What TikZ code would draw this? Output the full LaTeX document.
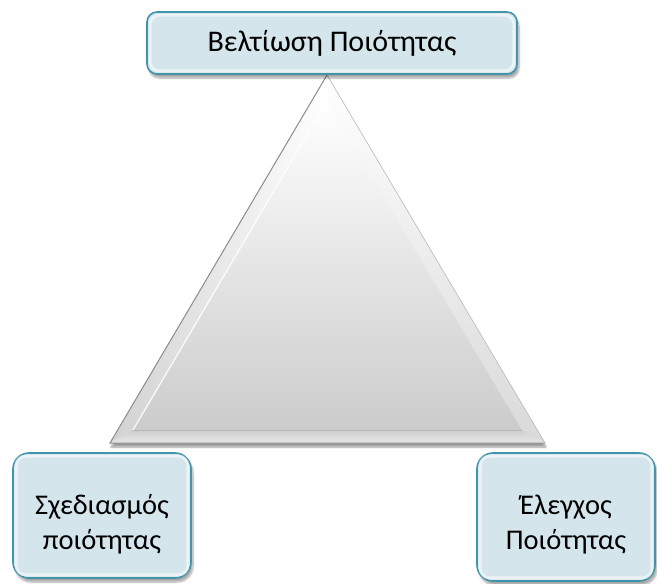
\documentclass[tikz,border=0pt]{standalone}
\usepackage{fontspec}
\setmainfont{Carlito}
\usetikzlibrary{shadows.blur}
\definecolor{boxfill}{HTML}{D5E5EC}
\definecolor{boxedge}{HTML}{3F95AA}
\definecolor{facetgray}{HTML}{C9C9C9}
\definecolor{edgegray}{HTML}{8C8C8C}
\tikzset{
  qbox/.style={draw=boxedge, line width=1.6pt, fill=boxfill, align=center,
    inner sep=0pt, blur shadow={shadow xshift=2pt, shadow yshift=-4pt,
    shadow opacity=35, shadow blur steps=8}},
  glow/.style={draw=white, opacity=.55, line width=3pt},
  bigtext/.style={font=\fontsize{28.5}{35}\selectfont, align=center, inner sep=0pt},
  toptext/.style={font=\fontsize{30}{35}\selectfont},
}
\begin{document}
\begin{tikzpicture}[x=1pt,y=-1pt]
\useasboundingbox (0,0) rectangle (657,584);

% bevelled triangle: outer and inner corners
\coordinate (A) at (327,75);
\coordinate (B) at (110,443);
\coordinate (C) at (545,443);
\coordinate (a) at (327,101);
\coordinate (b) at (133,430);
\coordinate (c) at (522,430);

\fill[white, blur shadow={shadow xshift=1pt, shadow yshift=-4pt,
  shadow opacity=40, shadow blur steps=8}] (A) -- (B) -- (C) -- cycle;
% left facet
\shade[left color=edgegray!40, right color=white] (A) -- (B) -- (b) -- (a) -- cycle;
% right facet
\shade[top color=white, bottom color=facetgray!70] (A) -- (a) -- (c) -- (C) -- cycle;
% bottom facet
\shade[top color=facetgray!90, bottom color=facetgray!115!black] (B) -- (C) -- (c) -- (b) -- cycle;
% face
\shade[top color=white, bottom color=facetgray!95] (a) -- (b) -- (c) -- cycle;
% edges
\draw[edgegray, line width=1pt] (A) -- (B) -- (C);
\draw[edgegray!60, line width=.6pt] (A) -- (C);
\draw[white, line width=1.2pt, opacity=.9] (b) -- (a);
\draw[facetgray!80!black, line width=.4pt, opacity=.5] (b) -- (c);

% boxes
\node[qbox, rounded corners=10pt, minimum width=370pt, minimum height=62pt, toptext]
  (improve) at (332,43) {Βελτίωση Ποιότητας};
\node[qbox, rounded corners=16pt, minimum width=178pt, minimum height=125pt]
  (design) at (102,515.5) {};
\node[qbox, rounded corners=16pt, minimum width=178pt, minimum height=128pt]
  (control) at (566,517) {};

% soft inner highlight along the box edges
\foreach \n in {improve,design,control}
  \draw[glow, rounded corners=9pt]
    ([shift={(4pt,-4pt)}]\n.north west) rectangle ([shift={(-4pt,4pt)}]\n.south east);

% labels of the two lower boxes, set a little below centre
\node[bigtext] (designtext) at ([yshift=-9pt]design.center) {Σχεδιασμός\\ποιότητας};
\node[bigtext] (controltext) at ([yshift=-8pt]control.center) {Έλεγχος\\Ποιότητας};
\end{tikzpicture}
\end{document}
